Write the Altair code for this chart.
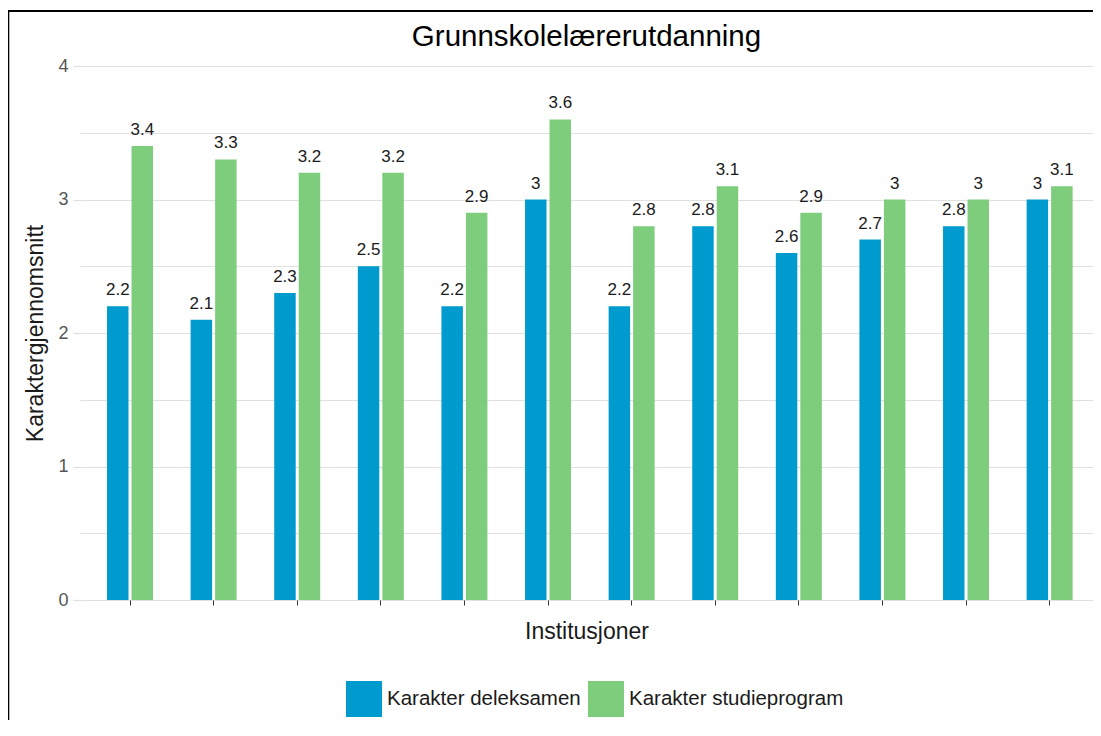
import altair as alt
import pandas as pd

institusjoner = [f"Institusjon {i}" for i in range(1, 13)]
deleksamen = [2.2, 2.1, 2.3, 2.5, 2.2, 3.0, 2.2, 2.8, 2.6, 2.7, 2.8, 3.0]
studieprogram = [3.4, 3.3, 3.2, 3.2, 2.9, 3.6, 2.8, 3.1, 2.9, 3.0, 3.0, 3.1]
serier = ["Karakter deleksamen", "Karakter studieprogram"]
farger = ["#009BCE", "#7DCD7C"]
y_values = [0, 0.5, 1, 1.5, 2, 2.5, 3, 3.5, 4]

rows = []
for i, inst in enumerate(institusjoner):
    rows.append({"inst": inst, "serie": serier[0], "verdi": deleksamen[i]})
    rows.append({"inst": inst, "serie": serier[1], "verdi": studieprogram[i]})
df = pd.DataFrame(rows)

W, H = 1013, 534
FONT = "Liberation Sans, Arial, sans-serif"

x_enc = alt.X(
    "inst:N", sort=institusjoner, title="Institusjoner",
    scale=alt.Scale(paddingInner=0.45, paddingOuter=0.2836, align=0.57),
    axis=alt.Axis(labels=False, domain=False, ticks=True, tickColor="#333333",
                  tickSize=5, tickWidth=1, grid=False, titleFontSize=23,
                  titleFontWeight="normal", titleColor="#1a1a1a", titlePadding=15),
)
xo_enc = alt.XOffset("serie:N", sort=serier,
                     scale=alt.Scale(paddingInner=0.123, paddingOuter=0))
y_enc = alt.Y(
    "verdi:Q", title="Karaktergjennomsnitt",
    scale=alt.Scale(domain=[0, 4], nice=False, zero=True),
    axis=alt.Axis(values=y_values,
                  labelExpr="datum.value % 1 === 0 ? '' + datum.value : ''",
                  grid=True, gridColor="#e0e0e0", gridWidth=1.2,
                  domain=False, tickColor="#e0e0e0", tickWidth=1.2, tickSize=7,
                  tickOpacity={"condition": {"test": "datum.value % 1 !== 0", "value": 0}, "value": 1},
                  labelFontSize=18, labelColor="#555555", labelPadding=5,
                  titleFontSize=23, titleFontWeight="normal", titleColor="#1a1a1a",
                  titlePadding=10),
)
color_enc = alt.Color(
    "serie:N", sort=serier,
    scale=alt.Scale(domain=serier, range=farger),
    legend=alt.Legend(title=None, orient="none", legendX=266, legendY=615,
                      direction="horizontal", symbolType="square", symbolSize=1296,
                      symbolStrokeWidth=0, labelFontSize=20.5, labelColor="#1a1a1a",
                      labelOffset=5, columnPadding=7, padding=0, labelLimit=0),
)

base = alt.Chart(df)
bars = base.mark_bar().encode(x=x_enc, xOffset=xo_enc, y=y_enc, color=color_enc)
labels = base.mark_text(dy=-11, fontSize=17, color="#1a1a1a", baseline="alphabetic").encode(
    x=x_enc, xOffset=xo_enc, y=y_enc, text=alt.Text("verdi:Q")
)

frame_df = pd.DataFrame({"a": [0]})
left_line = alt.Chart(frame_df).mark_rule(color="black", strokeWidth=2).encode(
    x=alt.value(-71.7), y=alt.value(-55), y2=alt.value(H + 200)
)
top_line = alt.Chart(frame_df).mark_rule(color="black", strokeWidth=2).encode(
    x=alt.value(-72.7), x2=alt.value(W), y=alt.value(-55)
)

chart = alt.layer(bars, labels, left_line, top_line).properties(
    width=W, height=H,
    title=alt.TitleParams("Grunnskolelærerutdanning", fontSize=29.5, fontWeight="normal",
                          color="#000000", anchor="middle", offset=-42),
    autosize=alt.AutoSizeParams(type="none"),
    padding={"left": 72, "top": 58, "right": 0, "bottom": 120},
).configure(font=FONT).configure_view(stroke=None)

chart.save("out.html", embed_options={"renderer": "svg", "actions": False})
